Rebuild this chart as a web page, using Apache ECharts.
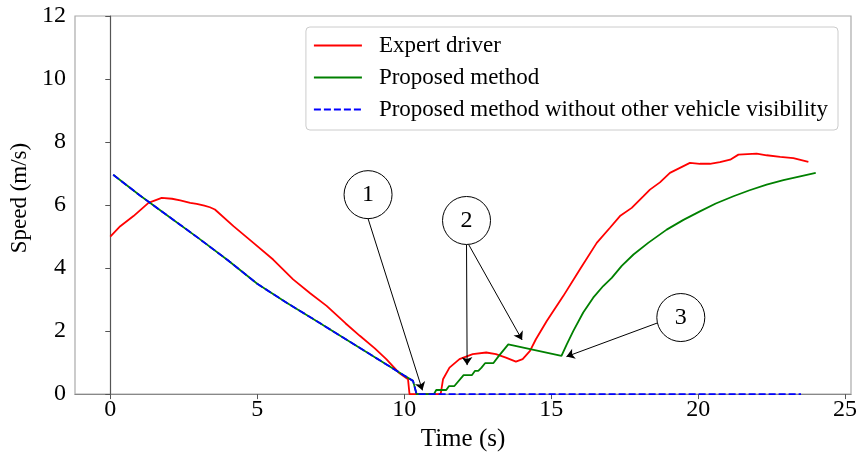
<!DOCTYPE html>
<html>
<head>
<meta charset="utf-8">
<script src="https://cdn.jsdelivr.net/npm/echarts@6/dist/echarts.min.js"></script>
<style>
html,body{margin:0;padding:0;background:#fff;}
#chart{width:862px;height:457px;}
</style>
</head>
<body>
<div id="chart"></div>
<script>
// ---- data (time s, speed m/s) ----
const seriesNames = ['Expert driver', 'Proposed method', 'Proposed method without other vehicle visibility'];

const expertDriver = [
  [0,5.0],[0.34,5.33],[0.79,5.65],[1.30,6.07],[1.75,6.23],[2.1,6.20],[2.38,6.15],[2.72,6.07],[2.94,6.04],
  [3.2,5.98],[3.39,5.93],[3.56,5.86],[4.19,5.33],[4.87,4.80],[5.54,4.27],[6.22,3.64],[6.8,3.20],
  [7.36,2.80],[8.0,2.25],[8.49,1.85],[9.0,1.45],[9.39,1.11],[9.84,0.66],[10.13,0.47],[10.18,0.0],
  [11.24,0.0],[11.32,0.47],[11.54,0.84],[11.88,1.11],[12.33,1.27],[12.79,1.32],[13.12,1.27],[13.46,1.16],
  [13.80,1.03],[14.03,1.11],[14.28,1.37],[14.48,1.74],[14.85,2.32],[15.41,3.11],[15.98,3.96],[16.55,4.80],
  [17.0,5.28],[17.34,5.65],[17.74,5.91],[18.14,6.28],[18.36,6.49],[18.70,6.72],[19.04,7.02],[19.38,7.18],
  [19.72,7.34],[20.06,7.31],[20.40,7.31],[20.74,7.36],[21.09,7.44],[21.37,7.60],[21.99,7.63],[22.33,7.58],
  [22.79,7.53],[23.24,7.49],[23.75,7.37]
];

const proposedMethod = [
  [0.1,6.96],[1,6.31],[2,5.63],[3,4.95],[4,4.25],[5,3.50],[6,2.90],[7,2.33],[8,1.75],[9,1.17],[10,0.59],
  [10.30,0.42],[10.42,0.0],[11.01,0.0],[11.09,0.13],[11.43,0.13],[11.52,0.25],[11.70,0.25],[12.02,0.60],
  [12.30,0.60],[12.41,0.74],[12.52,0.74],[12.63,0.84],[12.75,0.98],[13.03,0.98],[13.20,1.19],[13.54,1.58],
  [15.35,1.21],[15.53,1.58],[15.75,2.00],[16.09,2.59],[16.43,3.06],[16.77,3.43],[17.06,3.69],[17.40,4.07],
  [17.80,4.43],[18.30,4.80],[18.93,5.22],[19.50,5.53],[20.06,5.80],[20.60,6.05],[21.20,6.28],[21.75,6.47],
  [22.33,6.65],[22.90,6.79],[23.47,6.91],[24.0,7.02]
];

const proposedNoVisibility = [
  [0.1,6.96],[1,6.31],[2,5.63],[3,4.95],[4,4.25],[5,3.50],[6,2.90],[7,2.33],[8,1.75],[9,1.17],[10,0.59],
  [10.30,0.42],[10.42,0.0],[23.5,0.0]
];

const xTickValues = [0,5,10,15,20,25];
const yTickValues = [0,2,4,6,8,10,12];

// annotation anchors in data units
const calloutLabels = ['1','2','3'];
const calloutCenters = [[8.77,6.33],[12.12,5.51],[19.41,2.43]];
const arrowStarts = [[8.77,5.57],[12.12,4.75],[12.19,4.75],[18.65,2.27]];
const arrowEnds   = [[10.62,0.12],[12.14,0.92],[14.01,1.72],[15.52,1.19]];

// ---- chart ----
const serif = "'Liberation Serif','DejaVu Serif','Times New Roman',serif";
const chart = echarts.init(document.getElementById('chart'), null, {renderer:'canvas'});

const colors = ['#ff0000','#008000','#0000ff'];
const lineData = [expertDriver, proposedMethod, proposedNoVisibility];

const series = lineData.map((d, i) => ({
  name: seriesNames[i],
  type: 'line',
  data: d,
  symbol: 'none',
  smooth: false,
  z: 2 + i,
  lineStyle: { color: colors[i], width: 1.8, type: i === 2 ? [7,3] : 'solid' },
  itemStyle: { color: colors[i] },
  emphasis: { disabled: true }
}));

series.push({
  name: 'annotations',
  type: 'scatter',
  data: [],
  z: 10,
  silent: true,
  markLine: {
    silent: true,
    symbol: ['none','arrow'],
    symbolSize: 8,
    animation: false,
    label: { show: false },
    lineStyle: { color: '#000', width: 1, type: 'solid' },
    emphasis: { disabled: true },
    data: arrowStarts.map((s, i) => [{ coord: s }, { coord: arrowEnds[i] }])
  },
  markPoint: {
    silent: true,
    symbol: 'circle',
    symbolSize: 48,
    animation: false,
    itemStyle: { color: '#fff', borderColor: '#000', borderWidth: 1 },
    label: { show: true, formatter: '{b}', color: '#000', fontSize: 24, fontFamily: serif },
    data: calloutCenters.map((c, i) => ({ name: calloutLabels[i], coord: c }))
  }
});

chart.setOption({
  animation: false,
  backgroundColor: '#fff',
  grid: {
    left: 75, right: 11, top: 16, bottom: 62,
    show: true, borderColor: '#aaa', borderWidth: 1.2, backgroundColor: 'transparent'
  },
  legend: {
    data: seriesNames,
    orient: 'vertical',
    right: 24, top: 27,
    itemWidth: 48, itemHeight: 14,
    itemGap: 9,
    padding: [7, 10, 9, 7],
    borderColor: '#ccc', borderWidth: 1, borderRadius: 4,
    backgroundColor: 'rgba(255,255,255,0.8)',
    itemStyle: { opacity: 0, borderWidth: 0 },
    textStyle: { fontFamily: serif, fontSize: 23, color: '#000', lineHeight: 23, padding: [0,0,0,12] }
  },
  xAxis: {
    type: 'value',
    min: -1.2, max: 25.2,
    name: 'Time (s)',
    nameLocation: 'middle',
    nameGap: 32,
    nameTextStyle: { fontFamily: serif, fontSize: 25, color: '#000' },
    splitLine: { show: false },
    axisLine: { onZero: false, lineStyle: { color: '#888', width: 1.2 } },
    axisTick: { show: true, length: 5, lineStyle: { color: '#555' }, customValues: xTickValues },
    axisLabel: { customValues: xTickValues, margin: 4, fontFamily: serif, fontSize: 24, color: '#000' }
  },
  yAxis: {
    type: 'value',
    min: 0, max: 12, interval: 2,
    name: 'Speed (m/s)',
    nameLocation: 'middle',
    nameGap: 42,
    nameTextStyle: { fontFamily: serif, fontSize: 23, color: '#000', padding: [0, 0, 0, 14] },
    splitLine: { show: false },
    axisLine: { show: true, lineStyle: { color: '#555', width: 1.2 } },
    axisTick: { show: true, length: 5, lineStyle: { color: '#555' }, customValues: yTickValues },
    axisLabel: { customValues: yTickValues, margin: 9, fontFamily: serif, fontSize: 24, color: '#000' }
  },
  series: series
});
</script>
</body>
</html>
